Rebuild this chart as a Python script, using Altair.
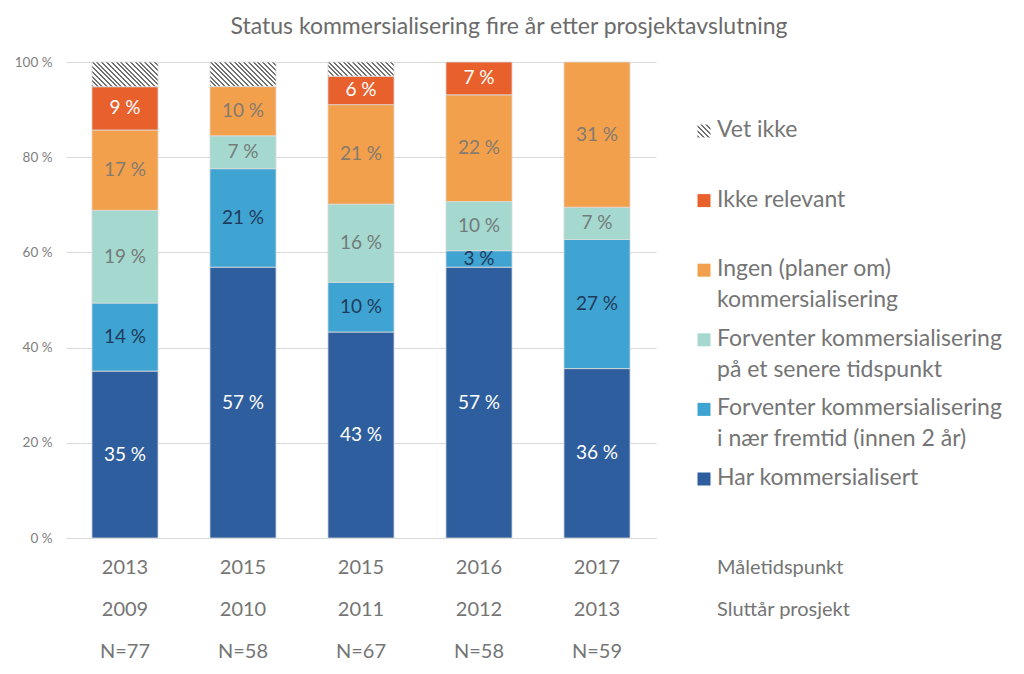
import math
import altair as alt
import pandas as pd

# ---------------- data ----------------
maaletidspunkt = ["2013", "2015", "2015", "2016", "2017"]
sluttaar = ["2009", "2010", "2011", "2012", "2013"]
n_values = [77, 58, 67, 58, 59]

categories = [
    "Har kommersialisert",
    "Forventer kommersialisering i nær fremtid (innen 2 år)",
    "Forventer kommersialisering på et senere tidspunkt",
    "Ingen (planer om) kommersialisering",
    "Ikke relevant",
    "Vet ikke",
]

har = [35.06, 56.90, 43.28, 56.90, 35.59]
naer = [14.29, 20.69, 10.45, 3.45, 27.12]
senere = [19.48, 6.90, 16.42, 10.34, 6.78]
ingen = [16.88, 10.34, 20.90, 22.41, 30.51]
ikke = [9.09, 0.0, 5.97, 6.90, 0.0]
vet = [5.19, 5.17, 2.99, 0.0, 0.0]

legend_lines = [
    ["Vet ikke"],
    ["Ikke relevant"],
    ["Ingen (planer om)", "kommersialisering"],
    ["Forventer kommersialisering", "på et senere tidspunkt"],
    ["Forventer kommersialisering", "i nær fremtid (innen 2 år)"],
    ["Har kommersialisert"],
]
legend_cats = ["Vet ikke", "Ikke relevant", "Ingen (planer om) kommersialisering",
               "Forventer kommersialisering på et senere tidspunkt",
               "Forventer kommersialisering i nær fremtid (innen 2 år)",
               "Har kommersialisert"]
row_labels = ["Måletidspunkt", "Sluttår prosjekt"]

title_text = "Status kommersialisering fire år etter prosjektavslutning"

# ---------------- style ----------------
FONT = "Lato"
GRAY = "#757575"
colors = ["#2E5E9E", "#3FA4D1", "#A5D9D0", "#F2A04C", "#E8602C"]
label_colors = ["#ffffff", "#1f3b5c", "#737b7a", "#857a70", "#ffffff"]
cat_color = dict(zip(categories[:5], colors))
cat_lcolor = dict(zip(categories[:5], label_colors))

W, H = 590, 476
PAD_L, PAD_T = 58, 54

series = [har, naer, senere, ingen, ikke, vet]
rows = []
for i, key in enumerate(sluttaar):
    for j, cat in enumerate(categories):
        rows.append({"key": key, "cat": cat, "order": j, "value": series[j][i],
                     "lc": cat_lcolor.get(cat, "#000000")})
df = pd.DataFrame(rows)


def hatch(w, h, period=3.4, dark="#707070", light="#ffffff", frac=0.42):
    s = (w + h) / (w * w + h * h)
    length = (w + h) / math.sqrt(2)
    k = max(1, round(length / period))
    stops = []
    for i in range(k):
        a, b, c = i / k, (i + frac) / k, (i + 1) / k
        stops += [alt.GradientStop(color=dark, offset=a),
                  alt.GradientStop(color=dark, offset=b),
                  alt.GradientStop(color=light, offset=b),
                  alt.GradientStop(color=light, offset=c)]
    return alt.LinearGradient(gradient="linear", stops=stops,
                              x1=0, y1=1, x2=s * w, y2=1 - s * h)


x_enc = alt.X("key:N", sort=sluttaar,
              scale=alt.Scale(paddingInner=0.44, paddingOuter=0.22),
              axis=alt.Axis(labels=False, ticks=False, domain=True,
                            domainColor="#d9d9d9", title=None, grid=False))
y_enc = alt.Y("y0:Q", scale=alt.Scale(domain=[0, 1]),
              axis=alt.Axis(values=[0, 0.2, 0.4, 0.6, 0.8, 1.0],
                            labelExpr="round(datum.value*100) + ' %'",
                            grid=True, gridColor="#d9d9d9", domain=False,
                            ticks=False, labelPadding=14, labelFontSize=13.5,
                            labelColor="#808080", labelFont=FONT, title=None))

base = alt.Chart(df).transform_stack(
    stack="value", groupby=["key"], as_=["y0", "y1"], offset="normalize",
    sort=[alt.SortField("order", order="ascending")])

bars = base.transform_filter(
    "datum.cat != 'Vet ikke' && datum.value > 0"
).mark_bar(stroke="#dcdcdc", strokeWidth=0.8).encode(
    x=x_enc, y=y_enc, y2="y1:Q",
    color=alt.Color("cat:N", scale=alt.Scale(domain=categories[:5], range=colors), legend=None),
)

layers = [bars]

band_w = (W / 5) * (1 - 0.44)
for i, key in enumerate(sluttaar):
    if vet[i] > 0:
        hh = vet[i] / 100 * H
        layers.append(
            base.transform_filter(f"datum.cat == 'Vet ikke' && datum.key == '{key}'")
            .mark_bar(color=hatch(band_w, hh), stroke="#dcdcdc", strokeWidth=0.8)
            .encode(x=x_enc, y=y_enc, y2="y1:Q")
        )

labels = base.transform_filter(
    "datum.cat != 'Vet ikke' && datum.value > 0"
).transform_calculate(
    mid="(datum.y0 + datum.y1) / 2", txt="round(datum.value) + ' %'"
).mark_text(font=FONT, fontSize=19).encode(
    x=x_enc, y=alt.Y("mid:Q"), text="txt:N", color=alt.Color("lc:N", scale=None)
)
layers.append(labels)

# x-label rows
xdf = pd.DataFrame({"key": sluttaar, "m": maaletidspunkt, "s": sluttaar,
                    "n": ["N=" + str(v) for v in n_values]})
row_y = [506, 548, 590]
for fld, yy in zip(["m", "s", "n"], row_y):
    layers.append(
        alt.Chart(xdf).mark_text(font=FONT, fontSize=20, color=GRAY, baseline="middle")
        .encode(x=alt.X("key:N", sort=sluttaar), y=alt.value(yy), text=f"{fld}:N")
    )

TEXT_X = 651
for lab, yy in zip(row_labels, row_y[:2]):
    layers.append(
        alt.Chart(pd.DataFrame({"t": [lab]})).mark_text(
            font=FONT, fontSize=20, color=GRAY, align="left", baseline="middle")
        .encode(x=alt.value(TEXT_X), y=alt.value(yy), text="t:N")
    )

# custom legend
LEG_TOP, LEG_GAP, LINE_GAP = 68, 69.6, 31
SQ = 13
for i, (cat, lines) in enumerate(zip(legend_cats, legend_lines)):
    y0 = LEG_TOP + i * LEG_GAP
    fill = hatch(SQ, SQ) if cat == "Vet ikke" else cat_color[cat]
    layers.append(
        alt.Chart(pd.DataFrame({"c": [cat]})).mark_square(
            size=SQ * SQ, color=fill, opacity=1, filled=True)
        .encode(x=alt.value(TEXT_X - 13), y=alt.value(y0 + 1))
    )
    for k, line in enumerate(lines):
        layers.append(
            alt.Chart(pd.DataFrame({"t": [line]})).mark_text(
                font=FONT, fontSize=23, color=GRAY, align="left", baseline="middle")
            .encode(x=alt.value(TEXT_X), y=alt.value(y0 + k * LINE_GAP), text="t:N")
        )

chart = alt.layer(*layers).properties(
    width=W, height=H,
    title=alt.TitleParams(text=title_text, font=FONT, fontSize=23, color="#6b6b6b",
                          fontWeight="normal", anchor="middle", frame="group",
                          dx=148, offset=16),
    padding={"left": PAD_L, "top": PAD_T, "right": 350, "bottom": 126},
    autosize=alt.AutoSizeParams(type="none"),
).configure_view(stroke=None)

chart.save("out.html", embed_options={"renderer": "svg", "actions": False})
